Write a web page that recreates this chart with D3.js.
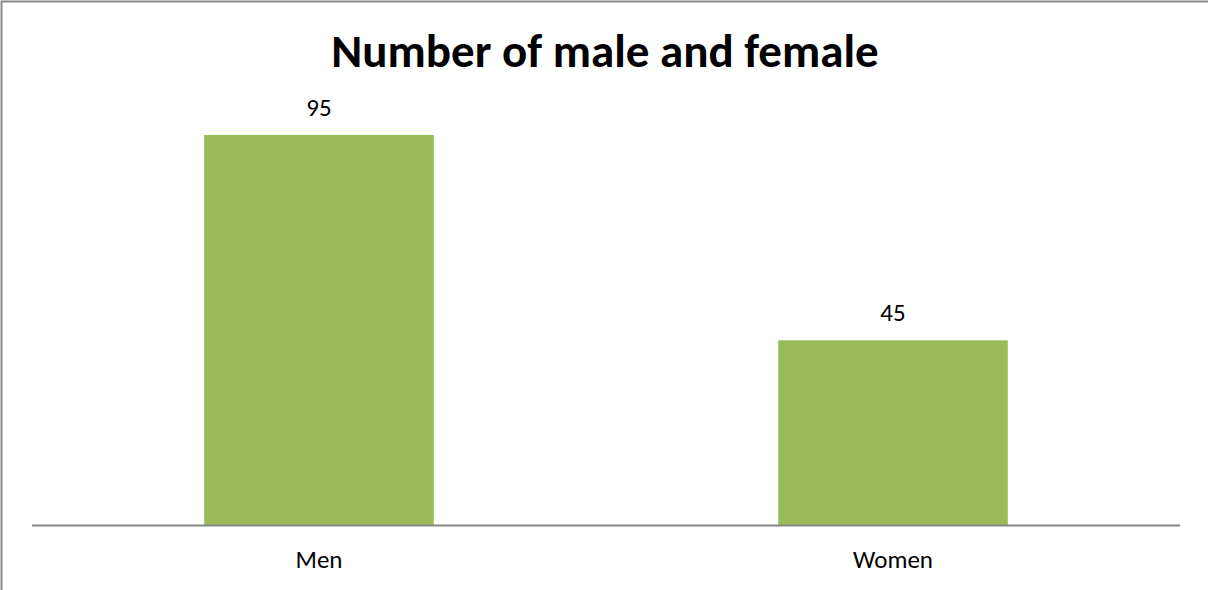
<!DOCTYPE html>
<html>
<head>
<meta charset="utf-8">
<script src="https://cdn.jsdelivr.net/npm/d3@7"></script>
<style>
  html, body { margin: 0; padding: 0; background: #fff; }
  svg { display: block; }
</style>
</head>
<body>
<svg id="chart" width="1208" height="590"></svg>
<script>
// Chart data
const categories = ["Men", "Women"];
const counts = [95, 45];
const chartTitle = "Number of male and female";

const W = 1208, H = 590;
const font = "Carlito, Calibri, 'Open Sans', sans-serif";
const plot = { left: 32, right: 1180, top: 114.5, bottom: 525 };

const svg = d3.select("#chart");

// Outer chart frame (only top and left edges fall inside the view)
svg.append("rect")
  .attr("x", 1.5).attr("y", 1.5)
  .attr("width", W + 10).attr("height", H + 10)
  .attr("fill", "#fff")
  .attr("stroke", "#878787")
  .attr("stroke-width", 2);

const x = d3.scaleBand()
  .domain(categories)
  .range([plot.left, plot.right])
  .paddingInner(0.6)
  .paddingOuter(0.3);

const y = d3.scaleLinear()
  .domain([0, 100])
  .range([plot.bottom, plot.top]);

// Bars
svg.append("g").selectAll("rect")
  .data(categories)
  .join("rect")
  .attr("x", d => x(d))
  .attr("y", (d, i) => y(counts[i]))
  .attr("width", x.bandwidth())
  .attr("height", (d, i) => y(0) - y(counts[i]))
  .attr("fill", "#9BBB59");

// Category axis
const xAxis = svg.append("g")
  .attr("transform", `translate(0,${y(0)})`)
  .call(d3.axisBottom(x).tickSize(0).tickPadding(25).tickSizeOuter(0));
xAxis.select(".domain")
  .attr("d", `M${plot.left},0.5H${plot.right}`)
  .attr("stroke", "#868686")
  .attr("stroke-width", 2);
xAxis.selectAll("text")
  .attr("font-family", font)
  .attr("font-size", 25)
  .attr("fill", "#000");

// Value labels above bars
svg.append("g").selectAll("text")
  .data(categories)
  .join("text")
  .attr("x", d => x(d) + x.bandwidth() / 2)
  .attr("y", (d, i) => y(counts[i]) - 19)
  .attr("text-anchor", "middle")
  .attr("font-family", font)
  .attr("font-size", 25)
  .attr("fill", "#000")
  .text((d, i) => counts[i]);

// Title
svg.append("text")
  .attr("x", 605)
  .attr("y", 67)
  .attr("text-anchor", "middle")
  .attr("font-family", font)
  .attr("font-weight", "bold")
  .attr("font-size", 47)
  .attr("fill", "#000")
  .text(chartTitle);
</script>
</body>
</html>
